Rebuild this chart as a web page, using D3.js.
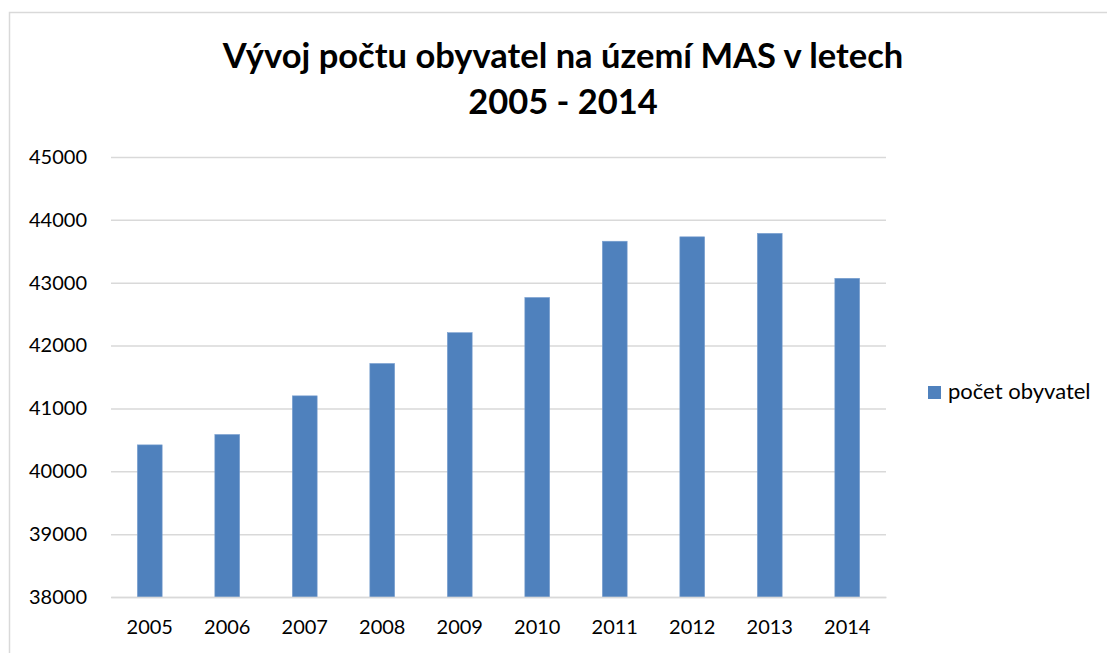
<!DOCTYPE html>
<html>
<head>
<meta charset="utf-8">
<script src="https://cdn.jsdelivr.net/npm/d3@7"></script>
<style>
    body { margin: 0; background: #fff; }
    svg text { font-family: Lato, "Liberation Sans", sans-serif; fill: #000; }
</style>
</head>
<body>
<div id="chart"></div>
<script>
var years = ["2005", "2006", "2007", "2008", "2009", "2010", "2011", "2012", "2013", "2014"];
var population = [40420, 40585, 41200, 41715, 42205, 42765, 43660, 43730, 43785, 43070];
var yTicks = [38000, 39000, 40000, 41000, 42000, 43000, 44000, 45000];
var seriesName = "počet obyvatel";
var titleLines = ["Vývoj počtu obyvatel na území MAS v letech", "2005 - 2014"];

Graf = (function () {
    var width = 1107,
        height = 653,
        margin = {top: 157, right: 221, bottom: 56, left: 111};

    function draw(containerId) {
        var svg = d3.select("#" + containerId).append("svg")
            .attr("width", width)
            .attr("height", height);

        // outer frame of the chart
        svg.append("rect")
            .attr("x", 9.5)
            .attr("y", 12.5)
            .attr("width", width)
            .attr("height", height)
            .attr("fill", "none")
            .attr("stroke", "#d9d9d9")
            .attr("stroke-width", 1.5);

        var title = svg.append("text")
            .attr("text-anchor", "middle")
            .attr("font-weight", "bold")
            .attr("font-size", 34.5);

        title.selectAll("tspan").data(titleLines)
            .enter().append("tspan")
            .attr("x", 563)
            .attr("y", function (d, i) { return 68 + i * 46; })
            .text(function (d) { return d; });

        var plotW = width - margin.left - margin.right,
            plotH = height - margin.top - margin.bottom;

        var x = d3.scaleBand().domain(years).range([0, plotW]).paddingInner(0.68).paddingOuter(0.34);
        var y = d3.scaleLinear().domain([38000, 45000]).range([plotH, 0]);

        var g = svg.append("g")
            .attr("transform", "translate(" + margin.left + "," + margin.top + ")");

        g.append("g")
            .attr("class", "grid")
            .call(d3.axisLeft(y).tickValues(yTicks).tickSize(-plotW).tickFormat(""))
            .call(function (s) {
                s.select(".domain").remove();
                s.selectAll("line").attr("stroke", "#d9d9d9").attr("stroke-width", 1.5);
            });

        g.append("g")
            .call(d3.axisLeft(y).tickValues(yTicks).tickSize(0).tickPadding(24).tickFormat(d3.format("d")))
            .call(function (s) {
                s.select(".domain").remove();
                s.selectAll("text").attr("font-size", 20).attr("fill", "#000");
            });

        g.selectAll("rect.bar").data(population)
            .enter().append("rect")
            .attr("class", "bar")
            .attr("x", function (d, i) { return x(years[i]); })
            .attr("width", x.bandwidth())
            .attr("y", function (d) { return y(d); })
            .attr("height", function (d) { return plotH - y(d); })
            .attr("fill", "#4f81bd")
            .attr("stroke", "#7aa0d0")
            .attr("stroke-width", 0.6);

        g.append("g")
            .attr("transform", "translate(0," + plotH + ")")
            .call(d3.axisBottom(x).tickSize(0).tickPadding(23))
            .call(function (s) {
                s.select(".domain").attr("stroke", "#d9d9d9").attr("stroke-width", 1.5);
                s.selectAll("text").attr("font-size", 20).attr("fill", "#000");
            });

        var legend = svg.append("g").attr("transform", "translate(928,386)");
        legend.append("rect")
            .attr("width", 13)
            .attr("height", 13)
            .attr("fill", "#4f81bd");
        legend.append("text")
            .attr("x", 20)
            .attr("y", 13)
            .attr("font-size", 22)
            .text(seriesName);
    }

    return { draw: draw };
})();

Graf.draw("chart");
</script>
</body>
</html>
